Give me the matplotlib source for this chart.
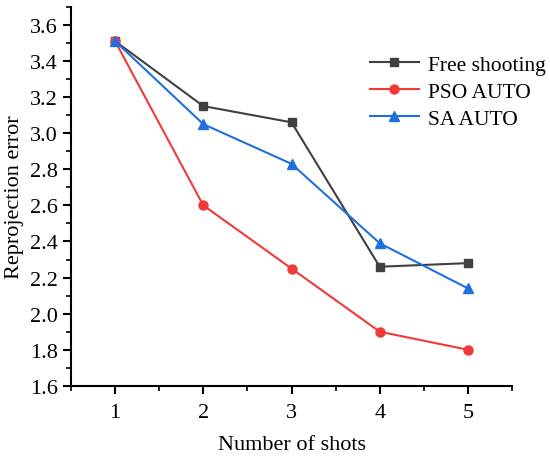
import matplotlib.pyplot as plt
from matplotlib.ticker import MultipleLocator

shots = [1, 2, 3, 4, 5]
free_shooting = [3.51, 3.15, 3.06, 2.26, 2.28]
pso_auto = [3.51, 2.60, 2.25, 1.90, 1.80]
sa_auto = [3.51, 3.05, 2.83, 2.39, 2.14]

plt.rcParams['font.family'] = ['Liberation Serif', 'DejaVu Serif']
plt.rcParams['font.size'] = 16

fig = plt.figure(figsize=(5.5, 4.6), dpi=100)
ax = fig.add_axes([0.129, 0.159, 0.802, 0.824])

ax.plot(shots, free_shooting, color='#404040', marker='s', markersize=6, lw=1.5, label='Free shooting')
ax.plot(shots, pso_auto, color='#f03a3a', marker='o', markersize=6.5, lw=1.5, label='PSO AUTO')
ax.plot(shots, sa_auto, color='#1f6fe0', marker='^', markersize=7, lw=1.5, label='SA AUTO')

ax.set_xlim(0.5, 5.5)
ax.set_ylim(1.6, 3.7)
ax.xaxis.set_major_locator(MultipleLocator(1))
ax.xaxis.set_minor_locator(MultipleLocator(0.5))
ax.yaxis.set_major_locator(MultipleLocator(0.2))
ax.yaxis.set_minor_locator(MultipleLocator(0.1))
ax.tick_params(which='major', direction='out', length=6, width=1.5, labelsize=16)
ax.tick_params(axis='x', which='major', pad=6)
ax.tick_params(which='minor', direction='out', length=3.5, width=1.2)
ax.yaxis.set_major_formatter(plt.FormatStrFormatter('%.1f'))

for s in ['top', 'right']:
    ax.spines[s].set_visible(False)
for s in ['left', 'bottom']:
    ax.spines[s].set_linewidth(1.5)

ax.set_xlabel('Number of shots', fontsize=16, labelpad=10)
ax.set_ylabel('Reprojection error', fontsize=16, labelpad=4)

ax.legend(loc='upper right', bbox_to_anchor=(1.12, 0.925), frameon=False, fontsize=15.5,
          handlelength=2.3, labelspacing=0.32, handletextpad=0.4)

fig.savefig('out.png', dpi=100)
